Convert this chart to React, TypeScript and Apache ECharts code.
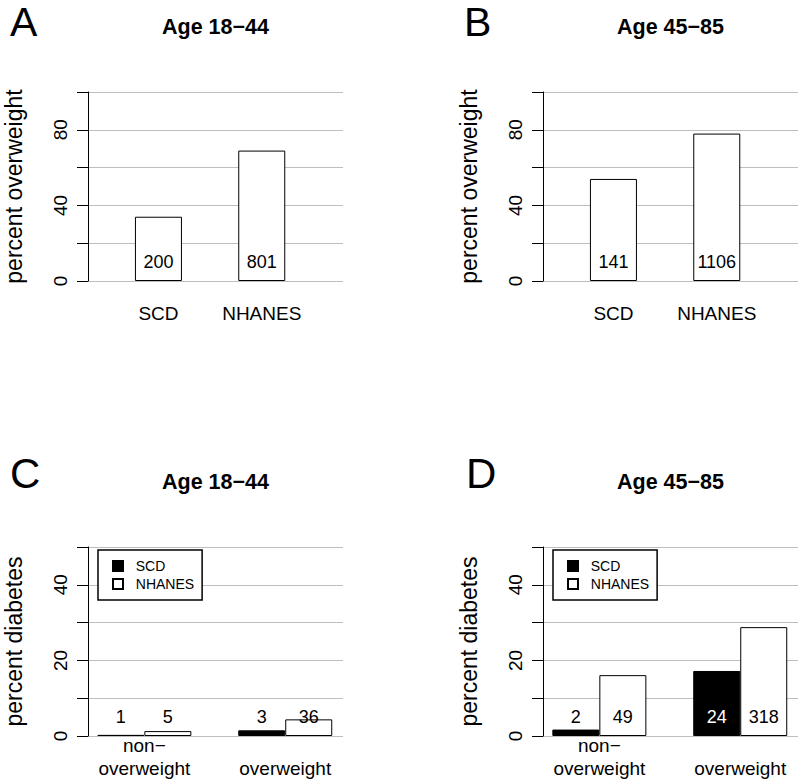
import React, { useEffect, useRef } from "react";
import * as echarts from "echarts";

// ---- data ----
const groupsAB = ["SCD", "NHANES"];
const posAB = [1.5, 3.7];
const overweightA = [34, 69];
const countsA = ["200", "801"];
const overweightB = [54, 78];
const countsB = ["141", "1106"];

const groupsCD = ["non−\noverweight", "\noverweight"];
const posCD = [1.2, 4.2];
const diabetesC_SCD = [0.3, 1.5];
const diabetesC_NHANES = [1.3, 4.4];
const countsC_SCD = ["1", "3"];
const countsC_NHANES = ["5", "36"];
const diabetesD_SCD = [1.7, 17.2];
const diabetesD_NHANES = [16.1, 28.8];
const countsD_SCD = ["2", "24"];
const countsD_NHANES = ["49", "318"];

const FONT = "'Liberation Sans', Arial, Helvetica, sans-serif";

export default function App() {
  const ref = useRef<HTMLDivElement>(null);
  useEffect(() => {
    document.body.style.margin = "0";
    const chart = echarts.init(ref.current!, null, { renderer: "svg" });

    const grids = [
      { left: 88, top: 92, width: 255, height: 189 },
      { left: 543, top: 92, width: 255, height: 189 },
      { left: 88, top: 547, width: 255, height: 189 },
      { left: 543, top: 547, width: 255, height: 189 },
    ];

    const xAxis = grids.map((_, i) => {
      const isTop = i < 2;
      const pos = isTop ? posAB : posCD;
      const names = isTop ? groupsAB : groupsCD;
      return {
        type: "value",
        gridIndex: i,
        min: 0,
        max: 5.43,
        axisLine: { show: false },
        axisTick: { show: false },
        splitLine: { show: false },
        axisLabel: {
          customValues: pos,
          formatter: (v: number) => {
            const k = pos.findIndex((p) => Math.abs(p - v) < 1e-6);
            return k >= 0 ? names[k] : "";
          },
          fontSize: 19,
          fontFamily: FONT,
          color: "#000",
          lineHeight: isTop ? 22 : 23,
          margin: isTop ? 21 : -2,
        },
      };
    });

    const yAxis = grids.map((_, i) => {
      const isTop = i < 2;
      const max = isTop ? 100 : 50;
      const interval = isTop ? 20 : 10;
      return {
        type: "value",
        gridIndex: i,
        min: 0,
        max,
        interval,
        name: isTop ? "percent overweight" : "percent diabetes",
        nameLocation: "middle",
        nameGap: 63,
        nameTextStyle: { fontSize: 23, fontFamily: FONT, color: "#000" },
        axisLine: { show: true, lineStyle: { color: "#000", width: 1 } },
        axisTick: { show: true, length: 11, lineStyle: { color: "#000", width: 1 } },
        splitLine: { show: true, lineStyle: { color: "#bebebe", width: 1 } },
        axisLabel: {
          rotate: 90,
          fontSize: 19,
          fontFamily: FONT,
          color: "#000",
          margin: 18,
          formatter: (v: number) => (v % (interval * 2) === 0 ? String(v) : ""),
        },
      };
    });

    const labelBase = {
      show: true,
      position: "insideBottom",
      distance: 10,
      fontSize: 18,
      fontFamily: FONT,
      color: "#000",
    };

    const single = (idx: number, vals: number[], counts: string[]) => ({
      type: "bar",
      name: "overweight" + idx,
      xAxisIndex: idx,
      yAxisIndex: idx,
      barWidth: 47,
      itemStyle: { color: "#fff", borderColor: "#000", borderWidth: 1 },
      data: vals.map((v, k) => ({
        value: [posAB[k], v],
        label: { ...labelBase, formatter: counts[k] },
      })),
    });

    const grouped = (
      idx: number,
      name: string,
      vals: number[],
      counts: string[],
      fill: string
    ) => ({
      type: "bar",
      name,
      xAxisIndex: idx,
      yAxisIndex: idx,
      barWidth: 47,
      barGap: "0%",
      itemStyle: { color: fill, borderColor: "#000", borderWidth: 1 },
      data: vals.map((v, k) => ({
        value: [posCD[k], v],
        label: {
          ...labelBase,
          formatter: counts[k],
          color: fill === "#000" && v > 8 ? "#fff" : "#000",
        },
      })),
    });

    const legendFor = (left: number) => ({
      left,
      top: 550,
      orient: "vertical",
      data: ["SCD", "NHANES"],
      icon: "rect",
      itemWidth: 10,
      itemHeight: 10,
      itemGap: 4,
      padding: [9, 8, 9, 14],
      borderColor: "#000",
      borderWidth: 1.5,
      borderRadius: 0,
      backgroundColor: "#fff",
      selectedMode: false,
      formatter: (n: string) => "  " + n,
      textStyle: { fontSize: 14, fontFamily: FONT, color: "#000" },
    });

    const txt = (
      x: number,
      y: number,
      text: string,
      size: number,
      bold: boolean,
      align = "center",
      valign = "middle"
    ) => ({
      type: "text",
      x,
      y,
      style: {
        text,
        fontSize: size,
        fontFamily: FONT,
        fontWeight: bold ? "bold" : "normal",
        fill: "#000",
        align,
        verticalAlign: valign,
      },
    });

    chart.setOption({
      animation: false,
      backgroundColor: "#fff",
      grid: grids,
      xAxis,
      yAxis,
      legend: [legendFor(98), legendFor(553)],
      series: [
        single(0, overweightA, countsA),
        single(1, overweightB, countsB),
        grouped(2, "SCD", diabetesC_SCD, countsC_SCD, "#000"),
        grouped(2, "NHANES", diabetesC_NHANES, countsC_NHANES, "#fff"),
        grouped(3, "SCD", diabetesD_SCD, countsD_SCD, "#000"),
        grouped(3, "NHANES", diabetesD_NHANES, countsD_NHANES, "#fff"),
      ],
      graphic: [
        txt(10, 1, "A", 41, false, "left", "top"),
        txt(464, 1, "B", 41, false, "left", "top"),
        txt(10, 473, "C", 42, false, "left"),
        txt(466, 473, "D", 42, false, "left"),
        txt(215.5, 27, "Age 18−44", 21.5, true),
        txt(670.5, 27, "Age 45−85", 21.5, true),
        txt(215.5, 482, "Age 18−44", 21.5, true),
        txt(670.5, 482, "Age 45−85", 21.5, true),
      ],
    });
    return () => chart.dispose();
  }, []);
  return <div ref={ref} style={{ width: 800, height: 782 }} />;
}
